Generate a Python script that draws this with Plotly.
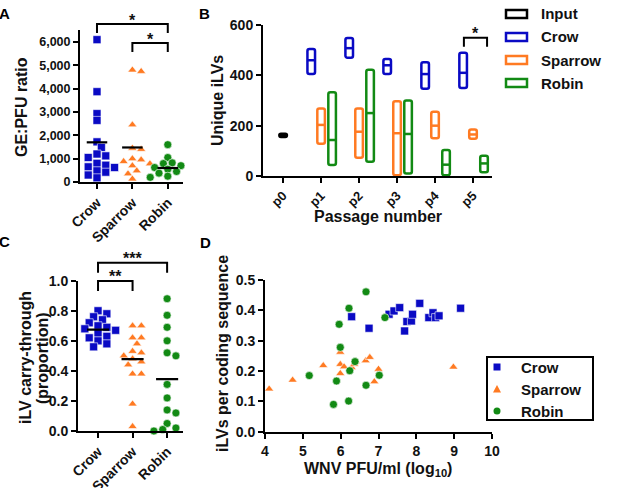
import numpy as np
import plotly.graph_objects as go

W, H = 624, 488
BLUE = "#0a0ac4"
ORANGE = "#ff7a22"
GREEN = "#128a14"
FONT = "Liberation Sans, Arial, sans-serif"

species = ["Crow", "Sparrow", "Robin"]
colors = [BLUE, ORANGE, GREEN]
symbols = ["square", "triangle-up", "circle"]

# ---------------- Panel A: GE:PFU ratio ----------------
ge_pfu_crow = [6100, 3870, 2930, 2640, 1720, 1480, 1200, 1120, 1050, 800, 720, 650, 620, 480, 420, 300, 180]
ge_pfu_sparrow = [4800, 4740, 2450, 1450, 1400, 1000, 950, 880, 780, 700, 480, 350, 130]
ge_pfu_robin = [1600, 1050, 820, 790, 700, 620, 550, 450, 380, 300, 250, 200]
ge_pfu_mean = [1700, 1480, 600]
ge_pfu_ticks = [0, 1000, 2000, 3000, 4000, 5000, 6000]

# ---------------- Panel B: unique iLVs per passage ----------------
passages = ["p0", "p1", "p2", "p3", "p4", "p5"]
input_min, input_max, input_mean = [155], [168], [161]
crow_min = [405, 470, 405, 347, 350]        # p1..p5
crow_max = [505, 548, 465, 452, 490]
crow_mean = [460, 508, 440, 405, 410]
sparrow_min = [128, 73, 3, 150, 148]
sparrow_max = [268, 268, 297, 255, 185]
sparrow_mean = [203, 176, 170, 200, 165]
robin_min = [44, 57, 10, 3, 15]
robin_max = [333, 422, 300, 103, 80]
robin_mean = [143, 250, 167, 45, 50]
ilv_ticks = [0, 200, 400, 600]

# ---------------- Panel C: iLV carry-through ----------------
carry_crow = [0.80, 0.78, 0.76, 0.74, 0.72, 0.70, 0.69, 0.68, 0.67, 0.65, 0.63, 0.62, 0.60, 0.58, 0.56]
carry_sparrow = [0.70, 0.70, 0.62, 0.62, 0.58, 0.53, 0.52, 0.50, 0.48, 0.46, 0.44, 0.38, 0.38, 0.18, 0.03]
carry_robin = [0.88, 0.77, 0.69, 0.60, 0.52, 0.50, 0.31, 0.22, 0.14, 0.12, 0.05, 0.02, 0.00, 0.01]
carry_mean = [0.675, 0.478, 0.345]
carry_ticks = [0.0, 0.2, 0.4, 0.6, 0.8, 1.0]

# ---------------- Panel D: iLVs per coding sequence vs titer ----------------
d_crow_x = [6.29, 6.75, 7.28, 7.41, 7.56, 7.69, 7.75, 7.87, 7.90, 8.09, 8.33, 8.44, 8.51, 8.60, 9.17]
d_crow_y = [0.379, 0.341, 0.387, 0.398, 0.409, 0.332, 0.363, 0.365, 0.387, 0.423, 0.376, 0.392, 0.376, 0.382, 0.407]
d_sparrow_x = [4.11, 4.73, 5.54, 5.99, 5.99, 5.99, 6.09, 6.29, 6.36, 6.40, 6.66, 6.77, 6.89, 7.00, 8.98]
d_sparrow_y = [0.141, 0.170, 0.218, 0.262, 0.222, 0.192, 0.214, 0.212, 0.222, 0.231, 0.234, 0.245, 0.165, 0.206, 0.213]
d_robin_x = [5.17, 5.89, 5.81, 6.21, 5.96, 5.99, 6.22, 6.24, 6.38, 6.67, 6.67, 7.02, 7.17]
d_robin_y = [0.185, 0.167, 0.090, 0.101, 0.354, 0.278, 0.407, 0.201, 0.231, 0.461, 0.153, 0.186, 0.376]


def swarm(vals, ypx, xpx, diam):
    """Simple beeswarm: x offsets (category units) so markers do not pile up."""
    vals = np.asarray(vals, float)
    order = np.argsort(-vals)
    placed = []
    offs = np.zeros(len(vals))
    step = diam * 0.55
    for i in order:
        y = vals[i] * ypx
        cand = 0.0
        for k in range(0, 30):
            cand = 0.0 if k == 0 else ((k + 1) // 2) * step * (1 if k % 2 else -1)
            if all((cand - px) ** 2 + (y - py) ** 2 >= (0.8 * diam) ** 2 for px, py in placed):
                break
        placed.append((cand, y))
        offs[i] = cand / xpx
    return offs


def seg(xc, half, yvals):
    xs, ys = [], []
    for x, y in zip(xc, yvals):
        xs += [x - half, x + half, None]
        ys += [y, y, None]
    return xs, ys


fig = go.Figure()

# ---- Panel A
groupsA = [ge_pfu_crow, ge_pfu_sparrow, ge_pfu_robin]
for i, vals in enumerate(groupsA):
    offs = swarm(vals, 23.33 / 1000, 35.5, 8)
    fig.add_trace(go.Scatter(
        x=i + offs, y=vals, mode="markers", xaxis="x", yaxis="y", showlegend=False,
        cliponaxis=False,
        marker=dict(symbol=symbols[i], size=8, color=colors[i], line=dict(width=0.6, color="white"))))
mx, my = seg([0, 1, 2], 0.29, ge_pfu_mean)
fig.add_trace(go.Scatter(x=mx, y=my, mode="lines", xaxis="x", yaxis="y", showlegend=False,
                         line=dict(color="black", width=2.2)))

# ---- Panel B
pos_all = list(range(len(passages)))
pos_bird = pos_all[1:]
bw = 0.2
bird_sets = [
    ("Crow", BLUE, -0.26, crow_min, crow_max, crow_mean),
    ("Sparrow", ORANGE, 0.0, sparrow_min, sparrow_max, sparrow_mean),
    ("Robin", GREEN, 0.29, robin_min, robin_max, robin_mean),
]
fig.add_trace(go.Bar(x=[0], base=input_min, y=[a - b for a, b in zip(input_max, input_min)],
                     offset=-bw / 2, width=bw, xaxis="x2", yaxis="y2", showlegend=False,
                     marker=dict(color="white", line=dict(color="black", width=2.5), cornerradius=2)))
sx, sy = seg([0], bw / 2, input_mean)
fig.add_trace(go.Scatter(x=sx, y=sy, mode="lines", xaxis="x2", yaxis="y2", showlegend=False,
                         line=dict(color="black", width=2.5)))
for name, col, off, mn, mxv, me in bird_sets:
    fig.add_trace(go.Bar(x=pos_bird, base=mn, y=[a - b for a, b in zip(mxv, mn)],
                         offset=off - bw / 2, width=bw, xaxis="x2", yaxis="y2", showlegend=False,
                         marker=dict(color="white", line=dict(color=col, width=2.5), cornerradius=2)))
    sx, sy = seg([p + off for p in pos_bird], bw / 2, me)
    fig.add_trace(go.Scatter(x=sx, y=sy, mode="lines", xaxis="x2", yaxis="y2", showlegend=False,
                             line=dict(color=col, width=2.5)))

# ---- Panel C
groupsC = [carry_crow, carry_sparrow, carry_robin]
for i, vals in enumerate(groupsC):
    offs = swarm(vals, 150.3, 34.5, 8)
    fig.add_trace(go.Scatter(
        x=i + offs, y=vals, mode="markers", xaxis="x3", yaxis="y3", showlegend=False,
        cliponaxis=False,
        marker=dict(symbol=symbols[i], size=8, color=colors[i], line=dict(width=0.6, color="white"))))
mx, my = seg([0, 1, 2], 0.32, carry_mean)
fig.add_trace(go.Scatter(x=mx, y=my, mode="lines", xaxis="x3", yaxis="y3", showlegend=False,
                         line=dict(color="black", width=2.2)))

# ---- Panel D
for name, xs, ys, col, sym in [("Crow", d_crow_x, d_crow_y, BLUE, "square"),
                               ("Sparrow", d_sparrow_x, d_sparrow_y, ORANGE, "triangle-up"),
                               ("Robin", d_robin_x, d_robin_y, GREEN, "circle")]:
    fig.add_trace(go.Scatter(x=xs, y=ys, mode="markers", name=name, xaxis="x4", yaxis="y4",
                             cliponaxis=False, showlegend=False,
                             marker=dict(symbol=sym, size=8, color=col, line=dict(width=0.6, color="white"))))

axis_common = dict(showline=True, linecolor="black", linewidth=2, ticks="outside", ticklen=5,
                   tickwidth=2, tickcolor="black", showgrid=False, zeroline=False, automargin=False,
                   tickfont=dict(size=14, color="#111"))


def px2x(p):
    return p / W


def px2y(p):
    return 1 - p / H


fig.update_layout(
    template="none",
    width=W, height=H, margin=dict(l=0, r=0, t=0, b=0, autoexpand=False),
    paper_bgcolor="white", plot_bgcolor="white",
    font=dict(family=FONT, size=14, color="black", weight="bold"),
    barmode="overlay", showlegend=False,
    xaxis=dict(domain=[px2x(80), px2x(183)], range=[-0.48, 2.43], anchor="y",
               tickvals=[0, 1, 2], ticktext=species, tickangle=-45, **axis_common),
    yaxis=dict(domain=[px2y(182), px2y(30)], range=[0, 6514], anchor="x",
               tickvals=ge_pfu_ticks, tickformat=",d", **{**axis_common, "tickfont": dict(size=12.5, color="#111")}),
    xaxis2=dict(domain=[px2x(263), px2x(492)], range=[-0.53, 5.5], anchor="y2",
                tickvals=pos_all, ticktext=passages, tickangle=-45,
                **{**axis_common, "tickfont": dict(size=13, color="#111")}),
    yaxis2=dict(domain=[px2y(176), px2y(25)], range=[0, 600], anchor="x2",
                tickvals=ilv_ticks, **axis_common),
    xaxis3=dict(domain=[px2x(78), px2x(183)], range=[-0.58, 2.46], anchor="y3",
                tickvals=[0, 1, 2], ticktext=species, tickangle=-45, **axis_common),
    yaxis3=dict(domain=[px2y(431), px2y(280.7)], range=[0, 1.0], anchor="x3",
                tickvals=carry_ticks, tickformat=".1f", **axis_common),
    xaxis4=dict(domain=[px2x(265), px2x(492)], range=[4, 10], anchor="y4",
                dtick=1, **axis_common),
    yaxis4=dict(domain=[px2y(431.7), px2y(280)], range=[0, 0.5], anchor="x4",
                dtick=0.1, tickformat=".1f", **axis_common),
)

shapes = []
annots = []


def bracket(xref, yref, x0, x1, ytop, ybot, stars, ystar, size=16):
    shapes.append(dict(type="path", xref=xref, yref=yref,
                       path=f"M {x0},{ybot} L {x0},{ytop} L {x1},{ytop} L {x1},{ybot}",
                       line=dict(color="black", width=2)))
    annots.append(dict(xref=xref, yref=yref, x=(x0 + x1) / 2, y=ystar, text=stars, showarrow=False,
                       xanchor="center", yanchor="middle", font=dict(size=size, color="#111")))


# Panel A brackets (y in domain fractions of A's plot area)
bracket("x", "y domain", 0, 2, 1.04, 0.98, "*", 1.06)
bracket("x", "y domain", 1, 2, 0.914, 0.855, "*", 0.935)
# Panel B bracket
bracket("x2", "y2", 5 - 0.24, 5 + 0.37, 549, 514, "*", 565)
# Panel C brackets
bracket("x3", "y3 domain", 0, 1, 0.998, 0.931, "**", 1.03)
bracket("x3", "y3 domain", 0, 2, 1.12, 1.053, "***", 1.15)

# Panel B legend (outlined boxes)
legB = [("Input", "black"), ("Crow", BLUE), ("Sparrow", ORANGE), ("Robin", GREEN)]
for k, (lab, col) in enumerate(legB):
    yc = 14 + k * 23
    shapes.append(dict(type="rect", xref="paper", yref="paper",
                       x0=px2x(506), x1=px2x(527), y0=px2y(yc + 4), y1=px2y(yc - 4),
                       line=dict(color=col, width=2.5), fillcolor="white"))
    annots.append(dict(xref="paper", yref="paper", x=px2x(539), y=px2y(yc), text=lab, showarrow=False,
                       xanchor="left", yanchor="middle", font=dict(size=15, color="#111")))

# Panel D legend (boxed)
shapes.append(dict(type="rect", xref="paper", yref="paper", x0=px2x(487), x1=px2x(593),
                   y0=px2y(420), y1=px2y(357), line=dict(color="black", width=2), fillcolor="white"))
legD = [("Crow", BLUE, "sq"), ("Sparrow", ORANGE, "tri"), ("Robin", GREEN, "circ")]
for k, (lab, col, kind) in enumerate(legD):
    yc = 367 + k * 22
    xc = 497
    r = 3.5
    if kind == "sq":
        shapes.append(dict(type="rect", xref="paper", yref="paper", x0=px2x(xc - r), x1=px2x(xc + r),
                           y0=px2y(yc + r), y1=px2y(yc - r), line=dict(width=0), fillcolor=col))
    elif kind == "tri":
        shapes.append(dict(type="path", xref="paper", yref="paper",
                           path=f"M {px2x(xc - 4)},{px2y(yc + 3.5)} L {px2x(xc + 4)},{px2y(yc + 3.5)} "
                                f"L {px2x(xc)},{px2y(yc - 4)} Z",
                           line=dict(width=0), fillcolor=col))
    else:
        shapes.append(dict(type="circle", xref="paper", yref="paper", x0=px2x(xc - r), x1=px2x(xc + r),
                           y0=px2y(yc + r), y1=px2y(yc - r), line=dict(width=0), fillcolor=col))
    annots.append(dict(xref="paper", yref="paper", x=px2x(519), y=px2y(yc), text=lab, showarrow=False,
                       xanchor="left", yanchor="middle", font=dict(size=15, color="#111")))

# Axis titles
title_font = dict(size=16, color="#111")
annots += [
    dict(xref="paper", yref="paper", x=px2x(22), y=px2y(107), text="GE:PFU ratio", textangle=-90,
         showarrow=False, xanchor="center", yanchor="middle", font=title_font),
    dict(xref="paper", yref="paper", x=px2x(218), y=px2y(101), text="Unique iLVs", textangle=-90,
         showarrow=False, xanchor="center", yanchor="middle", font=title_font),
    dict(xref="paper", yref="paper", x=px2x(378), y=px2y(216), text="Passage number",
         showarrow=False, xanchor="center", yanchor="middle", font=title_font),
    dict(xref="paper", yref="paper", x=px2x(25), y=px2y(358), text="iLV carry-through",
         textangle=-90, showarrow=False, xanchor="center", yanchor="middle", font=title_font),
    dict(xref="paper", yref="paper", x=px2x(42), y=px2y(358), text="(proportion)",
         textangle=-90, showarrow=False, xanchor="center", yanchor="middle", font=title_font),
    dict(xref="paper", yref="paper", x=px2x(222), y=px2y(354), text="iLVs per coding sequence",
         textangle=-90, showarrow=False, xanchor="center", yanchor="middle", font=title_font),
    dict(xref="paper", yref="paper", x=px2x(378), y=px2y(469), text="WNV PFU/ml (log<sub>10</sub>)",
         showarrow=False, xanchor="center", yanchor="middle", font=title_font),
]
# Panel letters
for lab, x, y in [("A", 4, 13), ("B", 204, 14), ("C", 4, 241), ("D", 205, 242)]:
    annots.append(dict(xref="paper", yref="paper", x=px2x(x), y=px2y(y), text=lab, showarrow=False,
                       xanchor="center", yanchor="middle", font=dict(size=15, color="black")))

fig.update_layout(shapes=shapes, annotations=annots)
fig.write_html("out.html")
